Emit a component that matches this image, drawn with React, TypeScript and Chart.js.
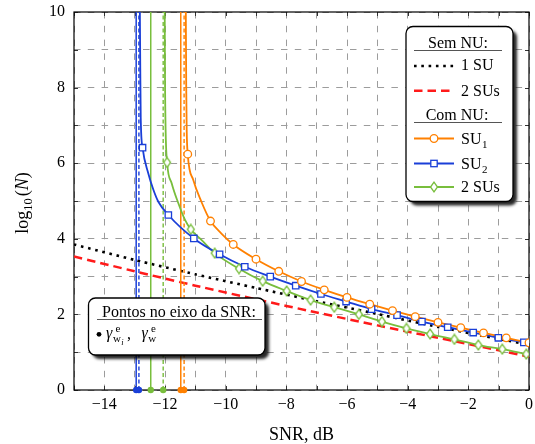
import React, { useEffect, useRef } from "react";
import { Chart, registerables } from "chart.js";
Chart.register(...registerables);

const FONT = "'Liberation Serif', 'Times New Roman', serif";

// axis ranges / ticks
const xMin = -15;
const xMax = 0;
const yMin = 0;
const yMax = 10;

// "Sem NU" curves
const semNu1SuX = [-15, -13, -11, -9, -7, -5, -3, -1, 0];
const semNu1SuY = [3.85, 3.44, 3.06, 2.7, 2.35, 2.01, 1.67, 1.35, 1.2];
const semNu2SuX = [-15, -13, -11, -9, -7, -5, -3, -1, 0];
const semNu2SuY = [3.53, 3.14, 2.76, 2.4, 2.05, 1.71, 1.38, 1.05, 0.88];

// "Com NU" SU1 (orange, circles)
const su1X = [-11.25, -10.5, -9.75, -9, -8.25, -7.5, -6.75, -6, -5.25, -4.5, -3.75, -3, -2.25, -1.5, -0.75, 0];
const su1Y = [6.24, 4.47, 3.85, 3.46, 3.14, 2.87, 2.65, 2.45, 2.27, 2.1, 1.94, 1.79, 1.65, 1.51, 1.38, 1.25];
const su1CurveX = [-11.315, -11.3, -11.285, -11.07, -10.8, -10.14];
const su1CurveY = [10.2, 8.0, 6.9, 5.56, 4.98, 4.14];

// "Com NU" SU2 (blue, squares)
const su2X = [-12.74, -11.89, -11.05, -10.2, -9.37, -8.53, -7.69, -6.86, -6.03, -5.19, -4.35, -3.53, -2.68, -1.84, -1.01, -0.17];
const su2Y = [6.41, 4.63, 4.01, 3.59, 3.26, 3.0, 2.76, 2.54, 2.34, 2.14, 1.98, 1.81, 1.66, 1.52, 1.38, 1.26];
const su2CurveX = [-12.83, -12.815, -12.8, -12.55, -12.38, -12.22];
const su2CurveY = [10.2, 8.5, 7.2, 5.73, 5.29, 4.98];

// "Com NU" 2 SUs (green, diamonds)
const sus2X = [-11.93, -11.15, -10.36, -9.56, -8.78, -7.99, -7.2, -6.42, -5.61, -4.85, -4.04, -3.26, -2.46, -1.67, -0.88, -0.09];
const sus2Y = [6.02, 4.25, 3.62, 3.21, 2.88, 2.62, 2.38, 2.19, 2.0, 1.81, 1.63, 1.48, 1.34, 1.19, 1.08, 0.95];
const sus2CurveX = [-12.01, -12.0, -11.98, -11.78, -11.56, -11.34, -10.8];
const sus2CurveY = [10.2, 8.3, 6.9, 5.47, 4.94, 4.5, 3.97];

// points on the SNR axis (order: SU2 blue, 2 SUs green, SU1 orange)
const solidLimitX = [-12.95, -12.47, -11.48];
const dashedLimitX = [-12.86, -12.06, -11.37];

const ORANGE = "#ff8000";
const BLUE = "#1a3fd8";
const GREEN = "#78be3c";
const RED = "#ff1a1a";
const limitColors = [BLUE, GREEN, ORANGE];

const pts = (xs: number[], ys: number[]) => xs.map((x, i) => ({ x, y: ys[i] }));
const merged = (ax: number[], ay: number[], bx: number[], by: number[]) =>
  pts(ax, ay).concat(pts(bx, by)).sort((a, b) => a.x - b.x);

const fmt = (v: number) => (v < 0 ? "\u2212" + Math.abs(v) : String(v));

function makeDiamond(): HTMLCanvasElement {
  const c = document.createElement("canvas");
  c.width = 10;
  c.height = 12;
  const g = c.getContext("2d")!;
  g.beginPath();
  g.moveTo(5, 1.2);
  g.lineTo(8.5, 6);
  g.lineTo(5, 10.8);
  g.lineTo(1.5, 6);
  g.closePath();
  g.fillStyle = "#fff";
  g.fill();
  g.strokeStyle = GREEN;
  g.lineWidth = 1.3;
  g.stroke();
  return c;
}

function roundRect(ctx: CanvasRenderingContext2D, x: number, y: number, w: number, h: number, r: number) {
  ctx.beginPath();
  ctx.moveTo(x + r, y);
  ctx.lineTo(x + w - r, y);
  ctx.arcTo(x + w, y, x + w, y + r, r);
  ctx.lineTo(x + w, y + h - r);
  ctx.arcTo(x + w, y + h, x + w - r, y + h, r);
  ctx.lineTo(x + r, y + h);
  ctx.arcTo(x, y + h, x, y + h - r, r);
  ctx.lineTo(x, y + r);
  ctx.arcTo(x, y, x + r, y, r);
  ctx.closePath();
}

function shadowBox(ctx: CanvasRenderingContext2D, x: number, y: number, w: number, h: number) {
  ctx.save();
  ctx.shadowColor = "rgba(0,0,0,0.85)";
  ctx.shadowOffsetX = 4;
  ctx.shadowOffsetY = 4;
  ctx.shadowBlur = 3;
  roundRect(ctx, x, y, w, h, 7);
  ctx.fillStyle = "#fff";
  ctx.fill();
  ctx.restore();
  ctx.save();
  roundRect(ctx, x, y, w, h, 7);
  ctx.lineWidth = 1.3;
  ctx.strokeStyle = "#000";
  ctx.stroke();
  ctx.restore();
}

function underline(ctx: CanvasRenderingContext2D, x1: number, x2: number, y: number) {
  ctx.save();
  ctx.strokeStyle = "#555";
  ctx.lineWidth = 1;
  ctx.beginPath();
  ctx.moveTo(x1, y);
  ctx.lineTo(x2, y);
  ctx.stroke();
  ctx.restore();
}

const overlayPlugin = {
  id: "overlay",
  beforeDatasetsDraw(chart: any) {
    const ctx: CanvasRenderingContext2D = chart.ctx;
    const a = chart.chartArea;
    const xs = chart.scales.x;
    const ys = chart.scales.y;
    ctx.save();
    // inner ticks
    ctx.strokeStyle = "#333";
    ctx.lineWidth = 1;
    ctx.beginPath();
    for (let v = xMin; v <= xMax; v++) {
      const px = Math.round(xs.getPixelForValue(v)) + 0.5;
      ctx.moveTo(px, a.bottom);
      ctx.lineTo(px, a.bottom - 4);
      ctx.moveTo(px, a.top);
      ctx.lineTo(px, a.top + 4);
    }
    for (let v = yMin; v <= yMax; v++) {
      const py = Math.round(ys.getPixelForValue(v)) + 0.5;
      ctx.moveTo(a.left, py);
      ctx.lineTo(a.left + 4, py);
      ctx.moveTo(a.right, py);
      ctx.lineTo(a.right - 4, py);
    }
    ctx.stroke();
    // frame
    ctx.strokeStyle = "#000";
    ctx.lineWidth = 1.2;
    ctx.strokeRect(a.left, a.top, a.right - a.left, a.bottom - a.top);
    ctx.restore();
  },
  afterDraw(chart: any) {
    const ctx: CanvasRenderingContext2D = chart.ctx;
    const a = chart.chartArea;
    ctx.save();
    ctx.fillStyle = "#000";
    // x title
    ctx.font = `18px ${FONT}`;
    ctx.textAlign = "center";
    ctx.textBaseline = "alphabetic";
    ctx.fillText("SNR, dB", (a.left + a.right) / 2, 440);

    // y title: log10(N)
    ctx.save();
    ctx.translate(28, 203);
    ctx.rotate(-Math.PI / 2);
    ctx.textAlign = "left";
    const big = `18px ${FONT}`;
    const small = `12.5px ${FONT}`;
    const ital = `italic 18px ${FONT}`;
    const parts: [string, string, number][] = [
      ["log", big, 0],
      ["10", small, 4],
      ["(", big, 0],
      ["N", ital, 0],
      [")", big, 0],
    ];
    let total = 0;
    for (const [t, f] of parts) {
      ctx.font = f;
      total += ctx.measureText(t).width;
    }
    total += 2;
    let cx = -total / 2;
    parts.forEach(([t, f, dy], i) => {
      ctx.font = f;
      ctx.fillText(t, cx, dy);
      cx += ctx.measureText(t).width + (i === 1 ? 2 : 0);
    });
    ctx.restore();

    // ---- Legend box ----
    shadowBox(ctx, 406, 26.5, 107, 175);
    ctx.fillStyle = "#000";
    ctx.font = `16px ${FONT}`;
    ctx.textAlign = "center";
    ctx.fillText("Sem NU:", 458, 47.5);
    underline(ctx, 414, 502, 50.5);
    ctx.fillText("Com NU:", 457, 120);
    underline(ctx, 414, 502, 122.5);

    const lx1 = 414;
    const lx2 = 454;
    const tx = 461;
    // 1 SU dotted
    ctx.save();
    ctx.strokeStyle = "#000";
    ctx.lineWidth = 2.6;
    ctx.setLineDash([2.6, 4.7]);
    ctx.beginPath();
    ctx.moveTo(lx1, 66);
    ctx.lineTo(lx2, 66);
    ctx.stroke();
    // 2 SUs dashed red
    ctx.strokeStyle = RED;
    ctx.lineWidth = 2.5;
    ctx.setLineDash([8.5, 5]);
    ctx.beginPath();
    ctx.moveTo(lx1, 90.7);
    ctx.lineTo(lx2 - 3, 90.7);
    ctx.stroke();
    ctx.setLineDash([]);
    // SU1 orange
    ctx.lineWidth = 1.8;
    ctx.strokeStyle = ORANGE;
    ctx.beginPath();
    ctx.moveTo(lx1, 138.5);
    ctx.lineTo(lx2, 138.5);
    ctx.stroke();
    ctx.beginPath();
    ctx.arc(434, 138.5, 3.8, 0, Math.PI * 2);
    ctx.fillStyle = "#fff";
    ctx.fill();
    ctx.lineWidth = 1.3;
    ctx.stroke();
    // SU2 blue
    ctx.lineWidth = 1.8;
    ctx.strokeStyle = BLUE;
    ctx.beginPath();
    ctx.moveTo(lx1, 163.5);
    ctx.lineTo(lx2, 163.5);
    ctx.stroke();
    ctx.fillStyle = "#fff";
    ctx.fillRect(430.8, 160.3, 6.4, 6.4);
    ctx.lineWidth = 1.3;
    ctx.strokeRect(430.8, 160.3, 6.4, 6.4);
    // 2 SUs green
    ctx.lineWidth = 1.8;
    ctx.strokeStyle = GREEN;
    ctx.beginPath();
    ctx.moveTo(lx1, 187);
    ctx.lineTo(lx2, 187);
    ctx.stroke();
    ctx.beginPath();
    ctx.moveTo(434, 182.2);
    ctx.lineTo(437.5, 187);
    ctx.lineTo(434, 191.8);
    ctx.lineTo(430.5, 187);
    ctx.closePath();
    ctx.fillStyle = "#fff";
    ctx.fill();
    ctx.lineWidth = 1.3;
    ctx.stroke();
    ctx.restore();

    ctx.fillStyle = "#000";
    ctx.textAlign = "left";
    ctx.font = `16px ${FONT}`;
    ctx.fillText("1 SU", tx, 70);
    ctx.fillText("2 SUs", tx, 96);
    ctx.fillText("SU", tx, 144);
    const suW = ctx.measureText("SU").width;
    ctx.fillText("SU", tx, 169);
    ctx.fillText("2 SUs", tx, 191.7);
    ctx.font = `11px ${FONT}`;
    ctx.fillText("1", tx + suW + 0.5, 147.5);
    ctx.fillText("2", tx + suW + 0.5, 172.5);

    // ---- Annotation box ----
    shadowBox(ctx, 88.5, 298, 176.5, 57);
    ctx.fillStyle = "#000";
    ctx.font = `16px ${FONT}`;
    ctx.textAlign = "center";
    ctx.fillText("Pontos no eixo da SNR:", 179, 316.5);
    underline(ctx, 97, 262, 319.5);
    ctx.beginPath();
    ctx.arc(99, 334.3, 2.4, 0, Math.PI * 2);
    ctx.fill();
    ctx.textAlign = "left";
    ctx.font = `italic 16px ${FONT}`;
    ctx.fillText("\u03b3", 106, 338);
    ctx.fillText("\u03b3", 141.5, 338);
    ctx.font = `11px ${FONT}`;
    ctx.fillText("e", 115.5, 332);
    ctx.fillText("w", 113, 342);
    ctx.fillText("e", 151, 332);
    ctx.fillText("w", 148.3, 342);
    ctx.font = `italic 8.5px ${FONT}`;
    ctx.fillText("i", 121.2, 345);
    ctx.font = `16px ${FONT}`;
    ctx.fillText(",", 127, 339);
    ctx.restore();
  },
};

const zeroPad = (s: any) => {
  s.paddingTop = 0;
  s.paddingBottom = 0;
  s.paddingLeft = 0;
  s.paddingRight = 0;
};

export default function App() {
  const ref = useRef<HTMLCanvasElement | null>(null);
  useEffect(() => {
    if (!ref.current) return;
    const diamond = makeDiamond();
    const curveBase = {
      showLine: true,
      pointRadius: 0,
      borderWidth: 1.8,
      cubicInterpolationMode: "monotone" as const,
      fill: false,
    };
    const limitSets: any[] = [];
    solidLimitX.forEach((x, i) => {
      limitSets.push({
        data: [{ x, y: yMin }, { x, y: yMax }],
        showLine: true,
        borderColor: limitColors[i],
        backgroundColor: limitColors[i],
        borderWidth: 1.5,
        pointRadius: (c: any) => (c.dataIndex === 0 ? 3.2 : 0),
        pointBorderWidth: 0,
        clip: false,
      });
      limitSets.push({
        data: [{ x: dashedLimitX[i], y: yMin }, { x: dashedLimitX[i], y: yMax }],
        showLine: true,
        borderColor: limitColors[i],
        backgroundColor: limitColors[i],
        borderWidth: 1.4,
        borderDash: [4, 2.5],
        pointRadius: (c: any) => (c.dataIndex === 0 ? 3.2 : 0),
        pointBorderWidth: 0,
        clip: false,
      });
    });

    const chart = new Chart(ref.current, {
      type: "scatter",
      data: {
        datasets: [
          {
            data: pts(su1X, su1Y),
            showLine: false,
            pointStyle: "circle",
            pointRadius: 3.8,
            pointBorderWidth: 1.3,
            pointBorderColor: ORANGE,
            pointBackgroundColor: "#fff",
          },
          {
            data: pts(su2X, su2Y),
            showLine: false,
            pointStyle: "rect",
            pointRadius: 4.5,
            pointBorderWidth: 1.3,
            pointBorderColor: BLUE,
            pointBackgroundColor: "#fff",
          },
          {
            data: pts(sus2X, sus2Y),
            showLine: false,
            pointStyle: diamond,
            pointRadius: 5,
          },
          { ...curveBase, data: merged(su1X, su1Y, su1CurveX, su1CurveY), borderColor: ORANGE },
          { ...curveBase, data: merged(su2X, su2Y, su2CurveX, su2CurveY), borderColor: BLUE },
          { ...curveBase, data: merged(sus2X, sus2Y, sus2CurveX, sus2CurveY), borderColor: GREEN },
          ...limitSets,
          {
            data: pts(semNu1SuX, semNu1SuY),
            showLine: true,
            pointRadius: 0,
            borderColor: "#000",
            borderWidth: 2.6,
            borderDash: [2.6, 4.7],
            tension: 0.2,
          },
          {
            data: pts(semNu2SuX, semNu2SuY),
            showLine: true,
            pointRadius: 0,
            borderColor: RED,
            borderWidth: 2.5,
            borderDash: [8.5, 5],
            tension: 0.2,
          },
        ],
      },
      options: {
        animation: false,
        responsive: false,
        devicePixelRatio: 1,
        events: [],
        layout: { padding: { left: 0, right: 4, top: 12, bottom: 0 } },
        plugins: { legend: { display: false }, tooltip: { enabled: false } },
        scales: {
          x: {
            type: "linear",
            min: xMin,
            max: xMax,
            afterFit: (s: any) => {
              s.height = 54;
              zeroPad(s);
            },
            ticks: {
              stepSize: 1,
              autoSkip: false,
              maxRotation: 0,
              color: "#000",
              padding: 5,
              font: { family: FONT, size: 16 },
              callback: (v: any) => (Number(v) % 2 === 0 ? fmt(Number(v)) : ""),
            },
            grid: { color: "#9c9c9c", lineWidth: 1, drawTicks: false },
            border: { display: false, dash: [6.5, 7.3] },
          },
          y: {
            type: "linear",
            min: yMin,
            max: yMax,
            afterFit: (s: any) => {
              s.width = 74;
              zeroPad(s);
            },
            ticks: {
              stepSize: 1,
              autoSkip: false,
              color: "#000",
              padding: 9,
              font: { family: FONT, size: 16 },
              callback: (v: any) => (Number(v) % 2 === 0 ? fmt(Number(v)) : ""),
            },
            grid: { color: "#9c9c9c", lineWidth: 1, drawTicks: false },
            border: { display: false, dash: [6.5, 7.3] },
          },
        },
      },
      plugins: [overlayPlugin],
    } as any);
    return () => chart.destroy();
  }, []);
  return (
    <div style={{ position: "absolute", left: 0, top: 0, width: 535, height: 444, background: "#fff" }}>
      <canvas ref={ref} width={535} height={444} style={{ display: "block", width: 535, height: 444 }} />
    </div>
  );
}
